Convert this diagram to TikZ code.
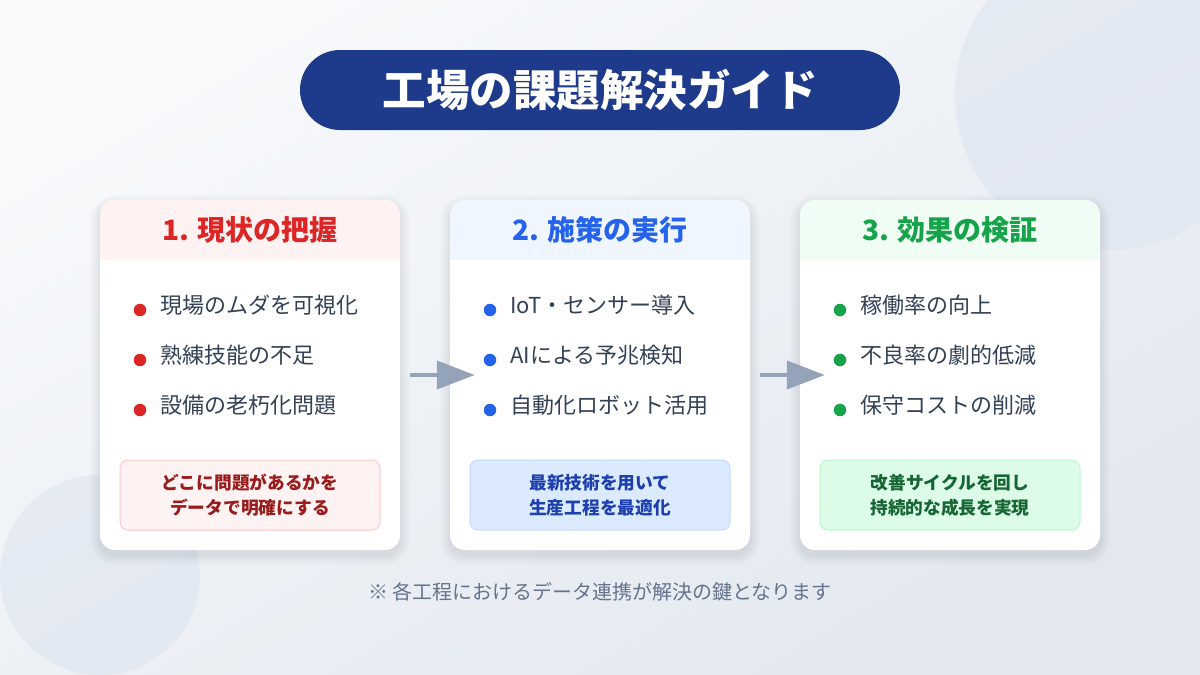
\documentclass[tikz,border=0pt]{standalone}
\usepackage{fontspec}
\setmainfont{Noto Sans CJK JP}
\usetikzlibrary{arrows.meta}
\definecolor{bgtop}{HTML}{F7F9FB}
\definecolor{bgbot}{HTML}{E3E8F0}
\definecolor{circc}{HTML}{DCE4F0}
\definecolor{navy}{HTML}{1E3A8A}
\definecolor{redt}{HTML}{DC2626}
\definecolor{redbg}{HTML}{FEF2F2}
\definecolor{redbd}{HTML}{FECACA}
\definecolor{redtx}{HTML}{991B1B}
\definecolor{bluet}{HTML}{2563EB}
\definecolor{bluebg}{HTML}{EFF6FF}
\definecolor{bluebox}{HTML}{DBEAFE}
\definecolor{bluebd}{HTML}{BFDBFE}
\definecolor{bluetx}{HTML}{1E40AF}
\definecolor{greent}{HTML}{16A34A}
\definecolor{greenbg}{HTML}{F0FDF4}
\definecolor{greenbox}{HTML}{DCFCE7}
\definecolor{greenbd}{HTML}{BBF7D0}
\definecolor{greentx}{HTML}{166534}
\definecolor{itemtx}{HTML}{334155}
\definecolor{arrowc}{HTML}{94A3B8}
\definecolor{foottx}{HTML}{64748B}
\definecolor{shadowc}{HTML}{1E293B}
\begin{document}
\begin{tikzpicture}[x=1pt,y=-1pt,
  card/.style={fill=white, rounded corners=15pt, minimum width=300pt, minimum height=350pt, inner sep=0pt},
  titlebox/.style={fill=navy, rounded corners=40pt, minimum width=600pt, minimum height=80pt, inner sep=0pt,
    text=white, font=\fontsize{43.5}{50}\selectfont\bfseries},
  headtxt/.style={font=\fontsize{28}{32}\selectfont\bfseries, inner sep=0pt},
  dot/.style={circle, inner sep=0pt, minimum size=12.5pt},
  item/.style={anchor=west, inner sep=0pt, text=itemtx, font=\fontsize{22}{26}\selectfont, text height=0.88em, text depth=0.12em},
  note/.style={rounded corners=8pt, line width=1pt, minimum width=260pt, minimum height=70pt, inner sep=0pt,
    align=center, font=\fontsize{17.7}{25}\selectfont\bfseries},
  flow/.style={draw=arrowc, line width=4pt, -{Triangle[length=38pt,width=28pt]}, shorten <=10pt, shorten >=-25pt},
  foot/.style={text=foottx, inner sep=0pt, font=\fontsize{20}{24}\selectfont}
]
\useasboundingbox (0,0) rectangle (1200,675);
\shade[top color=bgtop, bottom color=bgbot, shading angle=30] (0,0) rectangle (1200,675);
\fill[circc, opacity=0.55] (1110,95) circle[radius=155pt];
\fill[circc, opacity=0.55] (100,575) circle[radius=100pt];

\node[titlebox] (title) at (600,90) {工場の課題解決ガイド};

% soft card shadows
\foreach \cx in {100,450,800}{
  \foreach \e in {1,...,10}{
    \fill[shadowc, opacity=0.009, rounded corners={15pt+\e pt}]
      (\cx-\e,200-\e+5) rectangle (\cx+300+\e,550+\e+5);
  }
}

% cards
\node[card] (c1) at (250,375) {};
\node[card] (c2) at (600,375) {};
\node[card] (c3) at (950,375) {};
\begin{scope}
  \clip[rounded corners=15pt] (100,200) rectangle (400,550);
  \fill[redbg] (100,200) rectangle (400,260);
\end{scope}
\begin{scope}
  \clip[rounded corners=15pt] (450,200) rectangle (750,550);
  \fill[bluebg] (450,200) rectangle (750,260);
\end{scope}
\begin{scope}
  \clip[rounded corners=15pt] (800,200) rectangle (1100,550);
  \fill[greenbg] (800,200) rectangle (1100,260);
\end{scope}

\node[headtxt, text=redt] (h1) at (250,230) {1. 現状の把握};
\node[headtxt, text=bluet] (h2) at (600,230) {2. 施策の実行};
\node[headtxt, text=greent] (h3) at (950,230) {3. 効果の検証};

% card 1 items
\node[dot, fill=redt] (d11) at (140,310) {};
\node[dot, fill=redt] (d12) at (140,360) {};
\node[dot, fill=redt] (d13) at (140,410) {};
\node[item] (t11) at (160,310) {現場のムダを可視化};
\node[item] (t12) at (160,360) {熟練技能の不足};
\node[item] (t13) at (160,410) {設備の老朽化問題};
% card 2 items
\node[dot, fill=bluet] (d21) at (490,310) {};
\node[dot, fill=bluet] (d22) at (490,360) {};
\node[dot, fill=bluet] (d23) at (490,410) {};
\node[item] (t21) at (510,310) {IoT・センサー導入};
\node[item] (t22) at (510,360) {AIによる予兆検知};
\node[item] (t23) at (510,410) {自動化ロボット活用};
% card 3 items
\node[dot, fill=greent] (d31) at (840,310) {};
\node[dot, fill=greent] (d32) at (840,360) {};
\node[dot, fill=greent] (d33) at (840,410) {};
\node[item] (t31) at (860,310) {稼働率の向上};
\node[item] (t32) at (860,360) {不良率の劇的低減};
\node[item] (t33) at (860,410) {保守コストの削減};

% notes
\node[note, fill=redbg, draw=redbd, text=redtx] (n1) at (250,495) {どこに問題があるかを\\データで明確にする};
\node[note, fill=bluebox, draw=bluebd, text=bluetx] (n2) at (600,495) {最新技術を用いて\\生産工程を最適化};
\node[note, fill=greenbox, draw=greenbd, text=greentx] (n3) at (950,495) {改善サイクルを回し\\持続的な成長を実現};

% arrows
\draw[flow] (c1.east) -- (c2.west);
\draw[flow] (c2.east) -- (c3.west);

\node[foot] (ft) at (600,592) {※ 各工程におけるデータ連携が解決の鍵となります};
\end{tikzpicture}
\end{document}
